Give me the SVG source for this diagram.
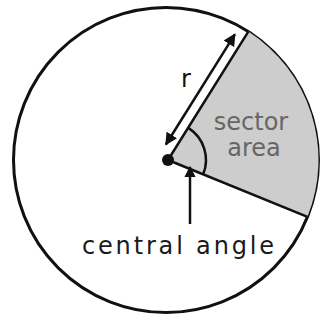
<svg xmlns="http://www.w3.org/2000/svg" width="328" height="327" viewBox="0 0 328 327">
  <style>
    .edge { fill: none; stroke: #111; stroke-width: 2.5; }
    .conn { fill: none; stroke: #111; stroke-width: 2.5; }
    .lbl { font-family: "DejaVu Sans", Verdana, sans-serif; font-size: 24px; }
  </style>
  <defs>
    <marker id="ah" viewBox="0 0 10 10" refX="9" refY="5" markerWidth="5" markerHeight="5" orient="auto-start-reverse">
      <path d="M0,0 L10,5 L0,10 Z" fill="#111"/>
    </marker>
    <marker id="ahb" viewBox="0 0 10 10" refX="9" refY="5" markerWidth="4.5" markerHeight="4.5" orient="auto">
      <path d="M0,0 L10,5 L0,10 Z" fill="#111"/>
    </marker>
  </defs>
  <rect width="328" height="327" fill="#fff"/>
  <g id="circle">
    <circle cx="166" cy="160" r="152.5" fill="#fff" stroke="#111" stroke-width="3"/>
  </g>
  <g id="sector">
    <path d="M168,160 L248.3,31.6 A152.5,152.5 0 0,1 307.5,216.8 Z" fill="#cdcdcd" stroke="none"/>
    <path class="edge" d="M168,160 L248.3,31.6"/>
    <path class="edge" d="M168,160 L307.5,216.8"/>
    <path class="edge" d="M188.7,128.1 A38,38 0 0,1 203.2,174.2" stroke-width="3"/>
    <circle cx="168" cy="160" r="6" fill="#111"/>
    <text class="lbl" x="251" y="130" text-anchor="middle" fill="#666" font-size="22" font-weight="500">sector</text>
    <text class="lbl" x="254" y="156" text-anchor="middle" fill="#666" font-size="22" font-weight="500">area</text>
  </g>
  <g id="radius-label">
    <text class="lbl" x="186" y="87" text-anchor="middle" fill="#111" font-size="26">r</text>
  </g>
  <g id="central-angle-label">
    <text class="lbl" x="82" y="254" fill="#1a1a1a" font-size="26" textLength="192" lengthAdjust="spacing">central angle</text>
  </g>
  <g id="connectors">
    <line class="conn" x1="165.9" y1="144.5" x2="234.8" y2="34.3" marker-start="url(#ah)" marker-end="url(#ah)"/>
    <line class="conn" x1="190" y1="224" x2="190" y2="167" stroke-width="3" marker-end="url(#ahb)"/>
  </g>
</svg>
